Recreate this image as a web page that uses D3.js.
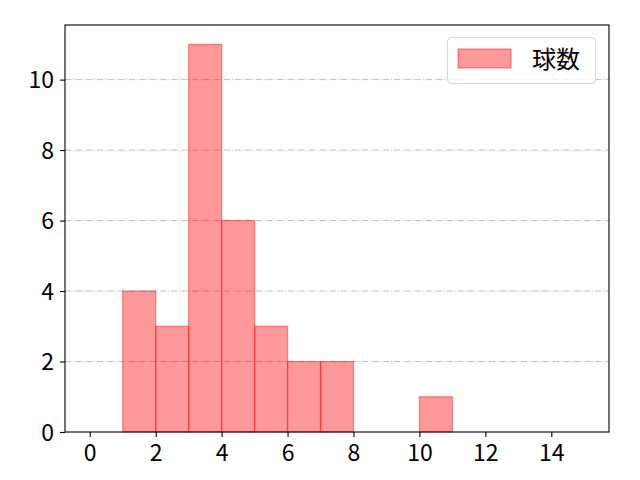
<!DOCTYPE html>
<html><head><meta charset="utf-8">
<script src="https://cdn.jsdelivr.net/npm/d3@7"></script>
<style>body{margin:0;background:#fff}svg{display:block}text{font-family:"Noto Sans CJK JP","Noto Sans",sans-serif}</style>
</head><body>
<svg id="c" width="640" height="480"></svg>
<script>
const binStarts = [0,1,2,3,4,5,6,7,8,9,10,11,12,13,14];
const counts    = [0,4,3,11,6,3,2,2,0,0,1,0,0,0,0];
const xTicks = [0,2,4,6,8,10,12,14];
const yTicks = [0,2,4,6,8,10];
const seriesName = "球数";

const svg = d3.select("#c");
const L=65, R=609, T=25, B=432;
const x = d3.scaleLinear().domain([-0.75,15.75]).range([L,R]);
const y = d3.scaleLinear().domain([0,11.55]).range([B,T]);

// grid
svg.append("g").selectAll("line").data(yTicks.filter(d=>d>0)).join("line")
  .attr("x1",L).attr("x2",R).attr("y1",d=>y(d)).attr("y2",d=>y(d))
  .attr("stroke","#b0b0b0").attr("stroke-width",0.8)
  .attr("stroke-dasharray","6.4,1.6,1,1.6");

// bars
svg.append("g").selectAll("rect").data(binStarts.map((s,i)=>({s,c:counts[i]})).filter(d=>d.c>0)).join("rect")
  .attr("x",d=>x(d.s)).attr("width",d=>x(d.s+1)-x(d.s))
  .attr("y",d=>y(d.c)).attr("height",d=>y(0)-y(d.c))
  .attr("fill","rgba(255,0,0,0.4)").attr("stroke","rgba(255,0,0,0.4)").attr("stroke-width",1.3);

// axes
const xa = svg.append("g").attr("transform",`translate(0,${B})`)
  .call(d3.axisBottom(x).tickValues(xTicks).tickSize(4.9).tickPadding(5).tickFormat(d3.format("d")));
const ya = svg.append("g").attr("transform",`translate(${L},0)`)
  .call(d3.axisLeft(y).tickValues(yTicks).tickSize(4.9).tickPadding(6).tickFormat(d3.format("d")));
[xa,ya].forEach(a=>{a.select(".domain").remove();
  a.attr("font-size",null).attr("font-family",null);
  a.selectAll("line").attr("stroke","#000").attr("stroke-width",1.1);
  a.selectAll("text").style("font-size","23px").attr("fill","#000")
   .style("font-family",'"Noto Sans CJK JP","Noto Sans",sans-serif');});
xa.selectAll("text").attr("dy","0.85em");
ya.selectAll("text").attr("dy","0.36em");

// frame
svg.append("rect").attr("x",L).attr("y",T).attr("width",R-L).attr("height",B-T)
  .attr("fill","none").attr("stroke","#000").attr("stroke-width",1.1);

// legend
const lg = svg.append("g");
lg.append("rect").attr("x",447.5).attr("y",37.5).attr("width",148).attr("height",46).attr("rx",4)
  .attr("fill","rgba(255,255,255,0.8)").attr("stroke","#d6d6d6").attr("stroke-width",1);
lg.append("rect").attr("x",458).attr("y",49).attr("width",53).attr("height",19)
  .attr("fill","rgba(255,0,0,0.4)").attr("stroke","rgba(255,0,0,0.4)").attr("stroke-width",1.3);
lg.append("text").attr("x",532).attr("y",68).style("font-size","24px").attr("fill","#000").text(seriesName);
</script>
</body></html>
